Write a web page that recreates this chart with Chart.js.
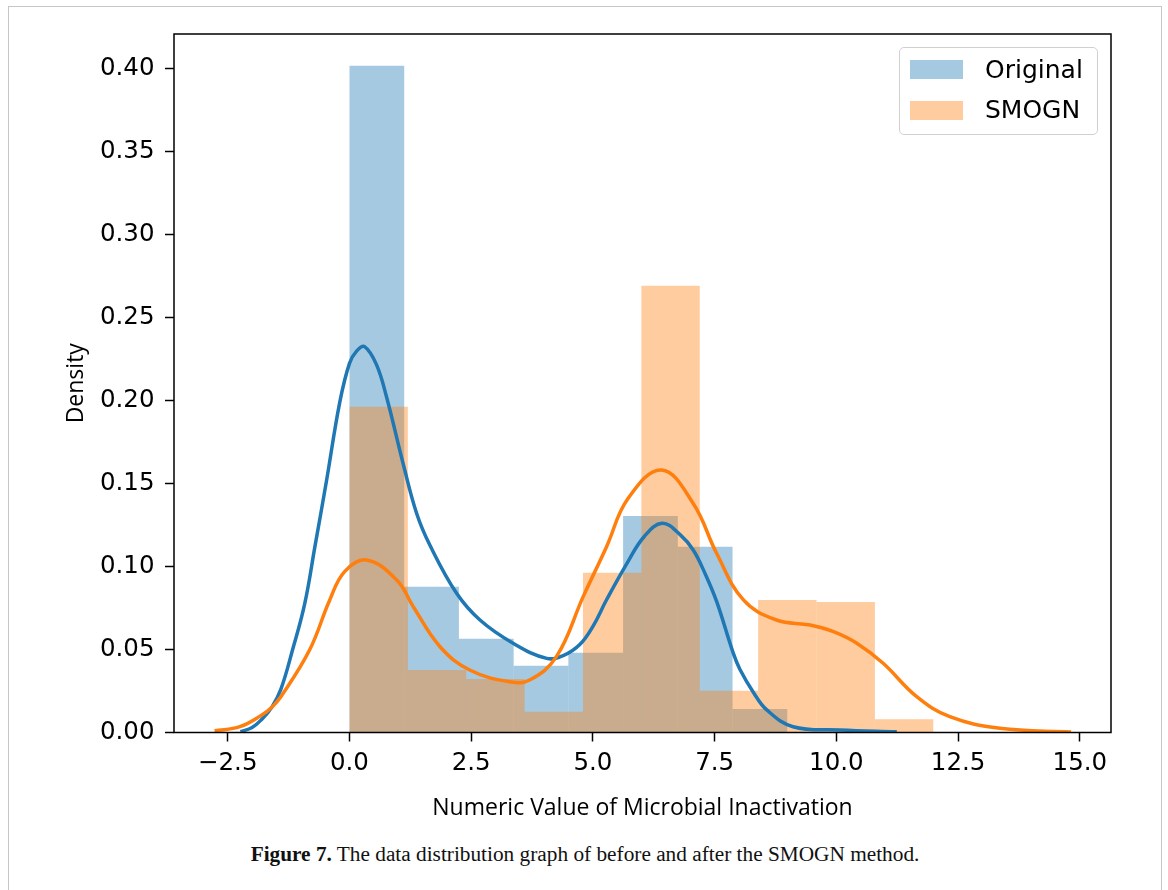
<!DOCTYPE html>
<html>
<head>
<meta charset="utf-8">
<title>Data distribution before and after SMOGN</title>
<script src="https://cdn.jsdelivr.net/npm/chart.js@4.4.1/dist/chart.umd.min.js"></script>
<style>
  html, body { margin: 0; padding: 0; background: #fff; }
  #page { position: relative; width: 1168px; height: 890px; overflow: hidden; background: #fff; }
  #frame { position: absolute; left: 8px; top: 6px; width: 1154px; height: 920px; border: 1.5px solid #c6c6c6; box-sizing: border-box; }
  #chartBox { position: absolute; left: 0; top: 0; width: 1168px; height: 830px; }
  #legend { position: absolute; left: 899px; top: 47px; width: 199px; height: 88px; box-sizing: border-box;
            border: 1.5px solid #d0d0d0; border-radius: 5px; background: rgba(255,255,255,0.8);
            font-family: 'DejaVu Sans', sans-serif; font-size: 25px; color: #000; }
  #legend .patch { position: absolute; left: 10px; width: 53px; height: 19px; }
  #legend .label { position: absolute; left: 85px; height: 30px; line-height: 30px; white-space: nowrap; }
  #caption { position: absolute; left: 8px; width: 1154px; top: 842px; text-align: center;
             font-family: 'Liberation Serif', serif; font-size: 21.3px; line-height: 24px; color: #111; }
</style>
</head>
<body>
<div id="page">
  <div id="frame"></div>
  <div id="chartBox"><canvas id="distChart" width="1168" height="830"></canvas></div>
  <div id="legend"></div>
  <div id="caption"><b>Figure 7.</b> The data distribution graph of before and after the SMOGN method.</div>
</div>
<script>
// histogram bins (density)
const originalBinStart = 0;
const originalBinWidth = 1.1239;
const originalDensity = [0.4018, 0.0879, 0.0565, 0.0403, 0.0481, 0.1305, 0.1120, 0.0142];

const smognBinStart = 0;
const smognBinWidth = 1.199;
const smognDensity = [0.1964, 0.0377, 0.0322, 0.0125, 0.0963, 0.2693, 0.0252, 0.0799, 0.0787, 0.0080];

// KDE curves
const originalKdeX = [-2.24, -2.0, -1.8, -1.6, -1.41, -1.17, -0.92, -0.71, -0.47, -0.2, 0.0, 0.15, 0.31, 0.55, 0.76, 1.10, 1.38, 1.65,
                      2.2, 2.68, 3.36, 4.05, 4.4, 4.73, 5.0, 5.28, 5.72, 6.05, 6.42, 6.8, 7.06, 7.3, 7.54, 7.88, 8.02, 8.3, 8.57, 9.11, 10.07, 11.24];
const originalKdeY = [0.0005, 0.003, 0.008, 0.015, 0.026, 0.0497, 0.0775, 0.112, 0.152, 0.199, 0.2225, 0.230, 0.2326, 0.222, 0.2024, 0.1623, 0.132, 0.113,
                      0.0839, 0.0678, 0.0538, 0.0447, 0.0465, 0.053, 0.064, 0.080, 0.103, 0.118, 0.1261, 0.119, 0.110, 0.096, 0.079, 0.048, 0.038, 0.024, 0.0136, 0.0035, 0.0015, 0.0005];

const smognKdeX = [-2.77, -2.25, -1.8, -1.6, -1.41, -0.82, -0.405, -0.1, 0.35, 0.97, 1.31, 1.86, 2.47, 3.29, 3.7, 4.25, 4.8, 5.28, 5.72,
                   6.41, 7.06, 7.54, 8.09, 8.77, 9.46, 9.94, 10.42, 10.96, 11.65, 12.33, 13.36, 14.82];
const smognKdeY = [0.001, 0.0035, 0.0105, 0.015, 0.0215, 0.0497, 0.0799, 0.097, 0.104, 0.0919, 0.0758, 0.0517, 0.0377, 0.0306, 0.0316, 0.0457, 0.0819, 0.112, 0.141,
                   0.1582, 0.138, 0.108, 0.0799, 0.0678, 0.0648, 0.0608, 0.0538, 0.0417, 0.0216, 0.0095, 0.0025, 0.0003];

const xTickValues = [-2.5, 0, 2.5, 5, 7.5, 10, 12.5, 15];
const yTickValues = [0, 0.05, 0.10, 0.15, 0.20, 0.25, 0.30, 0.35, 0.40];
const xLimits = [-3.604, 15.64];
const yLimits = [0, 0.421];

const blue = '#1f77b4';
const orange = '#ff7f0e';
const blueFill = 'rgba(31,119,180,0.4)';
const orangeFill = 'rgba(255,127,14,0.4)';

function binPoints(start, width, values) {
    return values.map((v, i) => ({ x: start + (i + 0.5) * width, y: v }));
}
function curvePoints(xs, ys) {
    return xs.map((x, i) => ({ x: x, y: ys[i] }));
}
function fmtX(v) {
    const s = Math.abs(v).toFixed(1);
    return v < 0 ? '\u2212' + s : s;
}

const tickFont = { family: 'DejaVu Sans', size: 24.5 };
const titleFont = { family: 'Open Sans', size: 23 };

// black box round the plot area, like matplotlib spines
const frameBox = {
    id: 'frameBox',
    afterDatasetsDraw(chart) {
        const a = chart.chartArea;
        const ctx = chart.ctx;
        ctx.save();
        ctx.strokeStyle = '#000';
        ctx.lineWidth = 1.5;
        ctx.strokeRect(a.left, a.top, a.right - a.left, a.bottom - a.top);
        ctx.restore();
    }
};

const xAxisBase = {
    type: 'linear',
    min: xLimits[0],
    max: xLimits[1],
    offset: false,
    afterBuildTicks: axis => { axis.ticks = xTickValues.map(v => ({ value: v })); }
};

const barStyle = { borderWidth: 0, inflateAmount: 0, barPercentage: 1, categoryPercentage: 1, grouped: false };
const lineStyle = { borderWidth: 3.5, pointRadius: 0, fill: false, tension: 0.4 };

const chart = new Chart(document.getElementById('distChart').getContext('2d'), {
    type: 'bar',
    data: {
        datasets: [
            Object.assign({ type: 'bar', label: 'Original', xAxisID: 'x', data: binPoints(originalBinStart, originalBinWidth, originalDensity),
              backgroundColor: blueFill, order: 3 }, barStyle),
            Object.assign({ type: 'bar', label: 'SMOGN', xAxisID: 'x2', data: binPoints(smognBinStart, smognBinWidth, smognDensity),
              backgroundColor: orangeFill, order: 2 }, barStyle),
            Object.assign({ type: 'line', label: 'Original KDE', xAxisID: 'x', data: curvePoints(originalKdeX, originalKdeY),
              borderColor: blue, order: 1 }, lineStyle),
            Object.assign({ type: 'line', label: 'SMOGN KDE', xAxisID: 'x', data: curvePoints(smognKdeX, smognKdeY),
              borderColor: orange, order: 0 }, lineStyle)
        ]
    },
    options: {
        responsive: false,
        animation: false,
        layout: { padding: { left: 0, top: 34, right: 57, bottom: 0 } },
        plugins: { legend: { display: false }, tooltip: { enabled: false } },
        scales: {
            x: Object.assign({}, xAxisBase, {
                position: 'bottom',
                afterFit: axis => { axis.height = 97.5; },
                border: { display: false },
                grid: { drawOnChartArea: false, offset: false, tickLength: 9, tickColor: '#000', tickWidth: 1.5 },
                ticks: { color: '#000', font: tickFont, padding: 7, maxRotation: 0, autoSkip: false, callback: v => fmtX(v) },
                title: { display: true, text: 'Numeric Value of Microbial Inactivation', color: '#000', font: titleFont, padding: { top: 4, bottom: 8 } }
            }),
            x2: Object.assign({}, xAxisBase, { display: false }),
            y: {
                type: 'linear',
                min: yLimits[0],
                max: yLimits[1],
                afterFit: axis => { axis.width = 174; },
                afterBuildTicks: axis => { axis.ticks = yTickValues.map(v => ({ value: v })); },
                border: { display: false },
                grid: { drawOnChartArea: false, tickLength: 9, tickColor: '#000', tickWidth: 1.5 },
                ticks: { color: '#000', font: tickFont, padding: 10.5, callback: v => v.toFixed(2) },
                title: { display: true, text: 'Density', color: '#000', font: titleFont, padding: { top: 63, bottom: 0 } }
            }
        }
    },
    plugins: [frameBox]
});

// legend box drawn in HTML, patches taken from the bar datasets
const legendEl = document.getElementById('legend');
chart.data.datasets.filter(d => d.type === 'bar').forEach((d, i) => {
    const patch = document.createElement('div');
    patch.className = 'patch';
    patch.style.top = (12 + i * 40.5) + 'px';
    patch.style.background = d.backgroundColor;
    const label = document.createElement('div');
    label.className = 'label';
    label.style.top = (6.5 + i * 40.5) + 'px';
    label.textContent = d.label;
    legendEl.appendChild(patch);
    legendEl.appendChild(label);
});
</script>
</body>
</html>
